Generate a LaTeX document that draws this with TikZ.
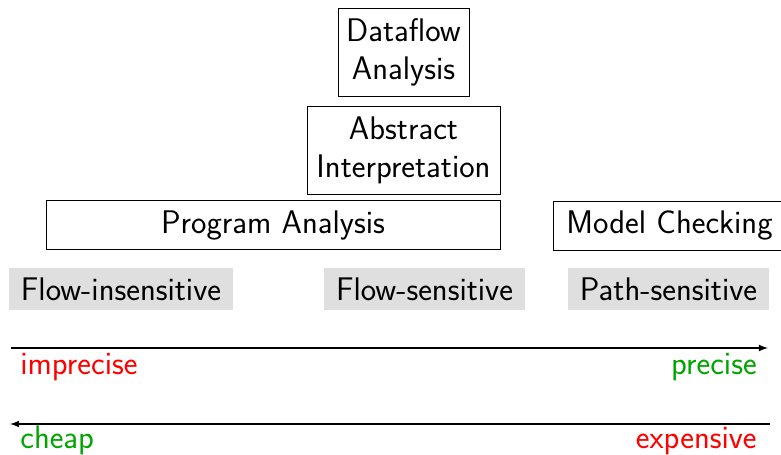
\documentclass[tikz,border=0pt]{standalone}
\usepackage{xcolor}
\definecolor{okgreen}{RGB}{0,165,0}
\tikzset{
  plainbox/.style={draw,line width=0.5pt,inner sep=0pt,align=center},
  greybox/.style={fill=gray!25,inner sep=0pt,minimum height=0.84cm},
  scalelabel/.style={inner sep=0pt}
}
\begin{document}
\begin{tikzpicture}[>=latex,x=0.02cm,y=-0.02cm,font=\fontsize{18.6}{21.5}\selectfont\sffamily]
\useasboundingbox (0,0) rectangle (781,455);
% Mittelpunkte der Kaesten (Pixelkoordinaten, y nach unten)
\coordinate (D)  at (403.5, 52);
\coordinate (AI) at (403.5,150);
\coordinate (PA) at (273,  225);
\coordinate (MC) at (669.5,225.5);
\coordinate (FI) at (121,  289);
\coordinate (FS) at (424.5,289);
\coordinate (PS) at (668.5,289);
% Endpunkte der Skalenpfeile
\coordinate (precL) at ( 11,348);
\coordinate (precR) at (768,348);
\coordinate (costL) at ( 10,424);
\coordinate (costR) at (770,424);
% Analysen (weiss, schwarz umrandet)
\node (dataflow) at (D)  [plainbox,minimum width=2.62cm,minimum height=1.76cm] {Dataflow\\Analysis};
\node (absint)   at (AI) [plainbox,minimum width=3.86cm,minimum height=1.76cm] {Abstract\\Interpretation};
\node (proganal) at (PA) [plainbox,minimum width=9.08cm,minimum height=0.98cm] {Program Analysis};
\node (modelchk) at (MC) [plainbox,minimum width=4.63cm,minimum height=0.98cm] {Model Checking};
% Sensitivitaet (grau hinterlegt)
\node (flowins)  at (FI) [greybox,minimum width=4.48cm] {Flow-insensitive};
\node (flowsens) at (FS) [greybox,minimum width=4.02cm] {Flow-sensitive};
\node (pathsens) at (PS) [greybox,minimum width=4.02cm] {Path-sensitive};
% Skalen
\draw[->,line width=0.8pt] (precL) -- (precR);
\draw[->,line width=0.8pt] (costR) -- (costL);
% Beschriftungen
\node (imprec) at (20,375)  [scalelabel,anchor=base west,red]     {imprecise};
\node (prec)   at (757,375) [scalelabel,anchor=base east,okgreen] {precise};
\node (cheap)  at (20,449)  [scalelabel,anchor=base west,okgreen] {cheap};
\node (expens) at (757,449) [scalelabel,anchor=base east,red]     {expensive};
\end{tikzpicture}
\end{document}
